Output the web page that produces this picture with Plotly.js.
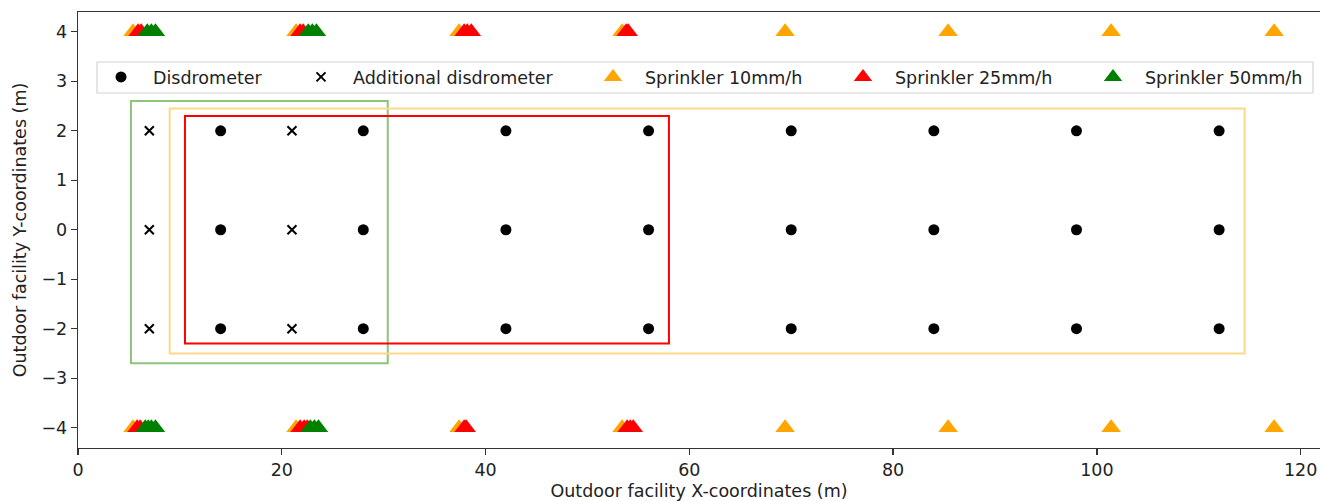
<!DOCTYPE html>
<html>
<head>
<meta charset="utf-8">
<script src="https://cdn.plot.ly/plotly-3.0.1.min.js"></script>
<style>html,body{margin:0;padding:0;background:#fff;overflow:hidden}#chart{width:1320px;height:501px}</style>
</head>
<body>
<div id="chart"></div>
<script>
// ---- data ----
const disdroX = [14, 28, 42, 56, 70, 84, 98, 112];
const disdroY = [-2, 0, 2];
const addX = [7, 21];
const addY = [-2, 0, 2];

const spr10X = [5.4, 21.4, 37.4, 53.4, 69.4, 85.4, 101.4, 117.4, 5.4, 21.4, 37.4, 53.4, 69.4, 85.4, 101.4, 117.4];
const spr10Y = [4, 4, 4, 4, 4, 4, 4, 4, -4, -4, -4, -4, -4, -4, -4, -4];

const spr25X = [5.9, 6.2, 21.8, 22.1, 37.9, 38.2, 38.6, 53.8, 54.0, 5.8, 6.1, 21.8, 22.2, 22.5, 37.9, 38.1, 53.9, 54.2, 54.5];
const spr25Y = [4, 4, 4, 4, 4, 4, 4, 4, 4, -4, -4, -4, -4, -4, -4, -4, -4, -4, -4];

const spr50X = [6.8, 7.2, 7.6, 22.6, 23.0, 23.4, 6.6, 6.9, 7.2, 7.6, 22.8, 23.2, 23.6];
const spr50Y = [4, 4, 4, 4, 4, 4, -4, -4, -4, -4, -4, -4, -4];

const areaGreenX = [5.2, 30.4], areaGreenY = [-2.7, 2.6];
const areaYellowX = [9.0, 114.5], areaYellowY = [-2.5, 2.45];
const areaRedX = [10.5, 58.0], areaRedY = [-2.3, 2.3];

const legendNames = ['Disdrometer', 'Additional disdrometer', 'Sprinkler 10mm/h', 'Sprinkler 25mm/h', 'Sprinkler 50mm/h'];

// ---- build grids ----
function grid(xs, ys) {
  const gx = [], gy = [];
  ys.forEach(y => xs.forEach(x => { gx.push(x); gy.push(y); }));
  return [gx, gy];
}
const [dX, dY] = grid(disdroX, disdroY);
const [aX, aY] = grid(addX, addY);

const FONT = 'DejaVu Sans, sans-serif';
const FS = 17.5;

const traces = [
  {x: dX, y: dY, mode: 'markers', type: 'scatter', name: legendNames[0], legend: 'legend',
   marker: {symbol: 'circle', size: 11, color: '#000'}},
  {x: aX, y: aY, mode: 'markers', type: 'scatter', name: legendNames[1], legend: 'legend2',
   marker: {symbol: 'x-thin', size: 9, color: '#000', line: {width: 2, color: '#000'}}},
  {x: spr10X, y: spr10Y, mode: 'markers', type: 'scatter', name: legendNames[2], legend: 'legend3',
   marker: {symbol: 'triangle-up', size: 17, color: '#FFA500'}},
  {x: spr25X, y: spr25Y, mode: 'markers', type: 'scatter', name: legendNames[3], legend: 'legend4',
   marker: {symbol: 'triangle-up', size: 17, color: '#FF0000'}},
  {x: spr50X, y: spr50Y, mode: 'markers', type: 'scatter', name: legendNames[4], legend: 'legend5',
   marker: {symbol: 'triangle-up', size: 17, color: '#008000'}}
];

function rect(xs, ys, color) {
  return {type: 'rect', xref: 'x', yref: 'y', x0: xs[0], x1: xs[1], y0: ys[0], y1: ys[1],
          line: {color: color, width: 2}, fillcolor: 'rgba(0,0,0,0)', layer: 'below'};
}

// plot area pixels: left 78, right 1320, top 12, bottom 448
const PL = 78, PW = 1242, PT = 12, PH = 436;
function px2paperX(p) { return (p - PL) / PW; }
function py2paperY(p) { return (PT + PH - p) / PH; }

const markerCenters = [121, 321, 613, 863, 1113];
function mkLegend(i) {
  return {
    x: px2paperX(markerCenters[i] - 32), xanchor: 'left',
    y: py2paperY(77), yanchor: 'middle',
    orientation: 'h', bgcolor: 'rgba(0,0,0,0)', borderwidth: 0,
    itemwidth: 54, font: {family: FONT, size: FS, color: '#222'},
    itemclick: false, itemdoubleclick: false
  };
}

const layout = {
  width: 1320, height: 501,
  margin: {l: PL, r: 0, t: PT, b: 501 - PT - PH},
  paper_bgcolor: '#fff', plot_bgcolor: '#fff',
  font: {family: FONT, size: FS, color: '#222'},
  showlegend: true,
  legend: mkLegend(0), legend2: mkLegend(1), legend3: mkLegend(2), legend4: mkLegend(3), legend5: mkLegend(4),
  xaxis: {
    range: [0, 121.9], showgrid: false, zeroline: false,
    showline: true, mirror: true, linecolor: '#333', linewidth: 1.3,
    ticks: 'outside', ticklen: 6, tickwidth: 1.3, tickcolor: '#333',
    tickvals: [0, 20, 40, 60, 80, 100, 120], tickfont: {family: FONT, size: FS, color: '#222'},
    title: {text: 'Outdoor facility X-coordinates (m)', font: {family: FONT, size: FS, color: '#222'}, standoff: 6}
  },
  yaxis: {
    range: [-4.41, 4.4], showgrid: false, zeroline: false,
    showline: true, mirror: false, linecolor: '#333', linewidth: 1.3,
    ticks: 'outside', ticklen: 6, tickwidth: 1.3, tickcolor: '#333',
    tickvals: [-4, -3, -2, -1, 0, 1, 2, 3, 4], tickfont: {family: FONT, size: FS, color: '#222'},
    title: {text: 'Outdoor facility Y-coordinates (m)', font: {family: FONT, size: FS, color: '#222'}, standoff: 10}
  },
  shapes: [
    rect(areaGreenX, areaGreenY, '#8cc57a'),
    rect(areaYellowX, areaYellowY, '#fcd88a'),
    rect(areaRedX, areaRedY, '#ff0000'),
    {type: 'rect', xref: 'paper', yref: 'paper',
     x0: px2paperX(97), x1: px2paperX(1313), y0: py2paperY(93), y1: py2paperY(62),
     line: {color: '#d4d4d4', width: 1.2}, fillcolor: 'rgba(255,255,255,0.8)', layer: 'above'}
  ]
};

Plotly.newPlot('chart', traces, layout, {displayModeBar: false, staticPlot: true});
</script>
</body>
</html>
